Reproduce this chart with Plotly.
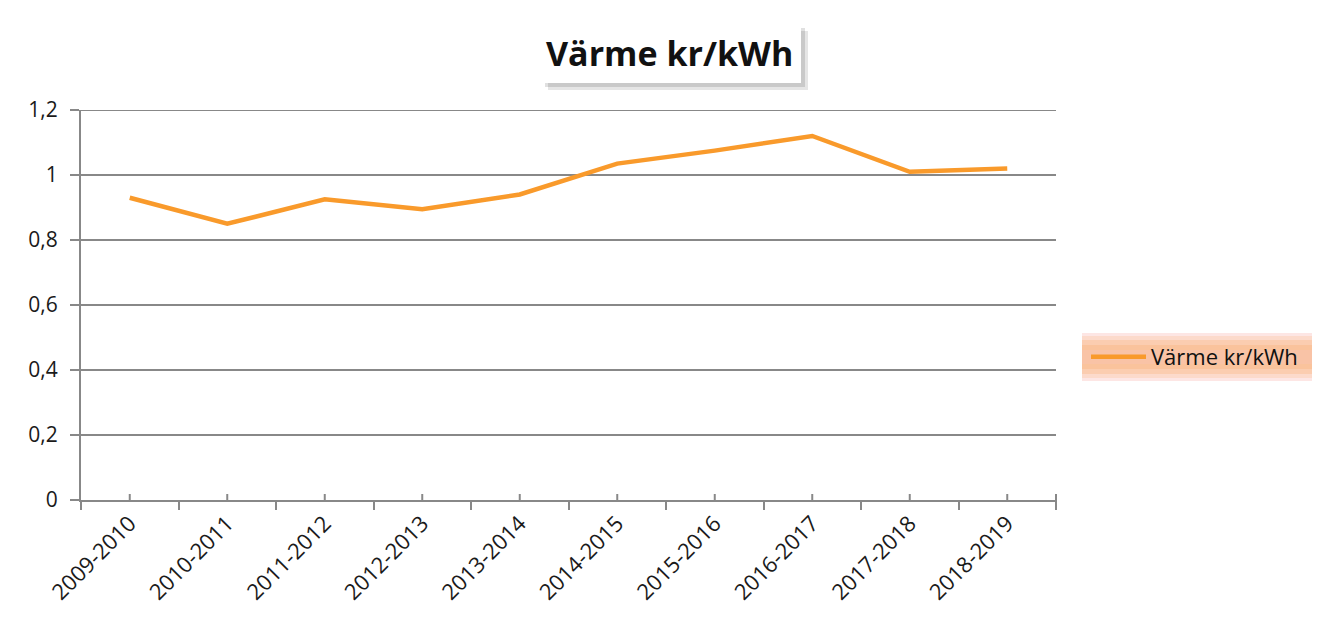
import plotly.graph_objects as go

categories = ["2009-2010", "2010-2011", "2011-2012", "2012-2013", "2013-2014",
              "2014-2015", "2015-2016", "2016-2017", "2017-2018", "2018-2019"]
values = [0.93, 0.85, 0.925, 0.895, 0.94, 1.035, 1.075, 1.12, 1.01, 1.02]
series_name = "Värme kr/kWh"
title_text = "Värme kr/kWh"

# page body has an 8px margin; figure is shifted accordingly
OFF = 8
W, H = 1320 - OFF, 621 - OFF
L, R, T, B = 81, 1056, 110, 500  # target page pixels of plot area

def px(x):
    return (x - L) / (R - L)

def py(y):
    return (B - y) / (B - T)

fig = go.Figure()
fig.add_trace(go.Scatter(
    x=categories, y=values, mode="lines", name=series_name,
    line=dict(color="#f99a2b", width=4.5),
))

shapes = []
# top gridline at 1.2
shapes.append(dict(type="line", xref="paper", yref="y", x0=px(72), x1=1, y0=1.2, y1=1.2,
                   line=dict(color="#888", width=2), layer="below"))
# small upward ticks at category centers
for c in categories:
    shapes.append(dict(type="line", xref="x", yref="paper", x0=c, x1=c, y0=0, y1=py(494),
                       line=dict(color="#888", width=2)))
# right end tick crossing
shapes.append(dict(type="line", xref="paper", yref="paper", x0=1, x1=1, y0=py(508), y1=py(494),
                   line=dict(color="#888", width=2)))
# title shadow + box
shapes.append(dict(type="rect", xref="paper", yref="paper",
                   x0=px(548), x1=px(808), y0=py(90), y1=py(31),
                   fillcolor="rgba(0,0,0,0.10)", line=dict(width=0), layer="below"))
shapes.append(dict(type="rect", xref="paper", yref="paper",
                   x0=px(545), x1=px(805), y0=py(87), y1=py(28),
                   fillcolor="rgba(0,0,0,0.12)", line=dict(width=0), layer="below"))
shapes.append(dict(type="rect", xref="paper", yref="paper",
                   x0=px(541), x1=px(801), y0=py(83), y1=py(25),
                   fillcolor="white", line=dict(width=0), layer="below"))
# legend gradient background
bands = [(333, 381, "#fde6e4"), (336, 378, "#fcdacb"), (340, 374, "#fbcdb0"),
         (345, 369, "#fac39c"), (350, 364, "#f9c3a6")]
for y0, y1, c in bands:
    shapes.append(dict(type="rect", xref="paper", yref="paper",
                       x0=px(1082), x1=px(1318), y0=py(y1), y1=py(y0),
                       fillcolor=c, line=dict(width=0), layer="below"))

fig.update_layout(
    width=W, height=H, autosize=False,
    margin=dict(l=L - OFF, r=W - (R - OFF), t=T - OFF, b=H - (B - OFF), pad=0),
    paper_bgcolor="white", plot_bgcolor="white",
    separators=", ",
    font=dict(family="Open Sans, sans-serif", color="#222"),
    showlegend=True,
    legend=dict(x=px(1086), y=py(357), xanchor="left", yanchor="middle",
                bgcolor="rgba(0,0,0,0)", font=dict(size=22, color="#111"),
                itemwidth=55),
    shapes=shapes,
    annotations=[dict(text="<b>" + title_text + "</b>", xref="paper", yref="paper",
                      x=px(669), y=py(53), xanchor="center", yanchor="middle",
                      showarrow=False, font=dict(size=34, color="#111"))],
)
fig.update_xaxes(
    type="category", tickson="boundaries", ticks="outside", ticklen=8,
    tickcolor="#888", tickwidth=2, showline=True, linecolor="#888", linewidth=2,
    showgrid=False, tickangle=-45, tickfont=dict(size=22, color="#1a1a1a"),
    range=[-0.5, len(categories) - 0.5],
)
fig.update_yaxes(
    range=[0, 1.2], dtick=0.2, tick0=0, ticks="outside", ticklen=9,
    tickcolor="#888", tickwidth=2, showline=True, linecolor="#888", linewidth=2,
    showgrid=True, gridcolor="#888", gridwidth=2, zeroline=False,
    tickfont=dict(size=21, color="#1a1a1a"), tickformat="~g",
    ticklabelstandoff=8,
)
fig.write_html("out.html")
